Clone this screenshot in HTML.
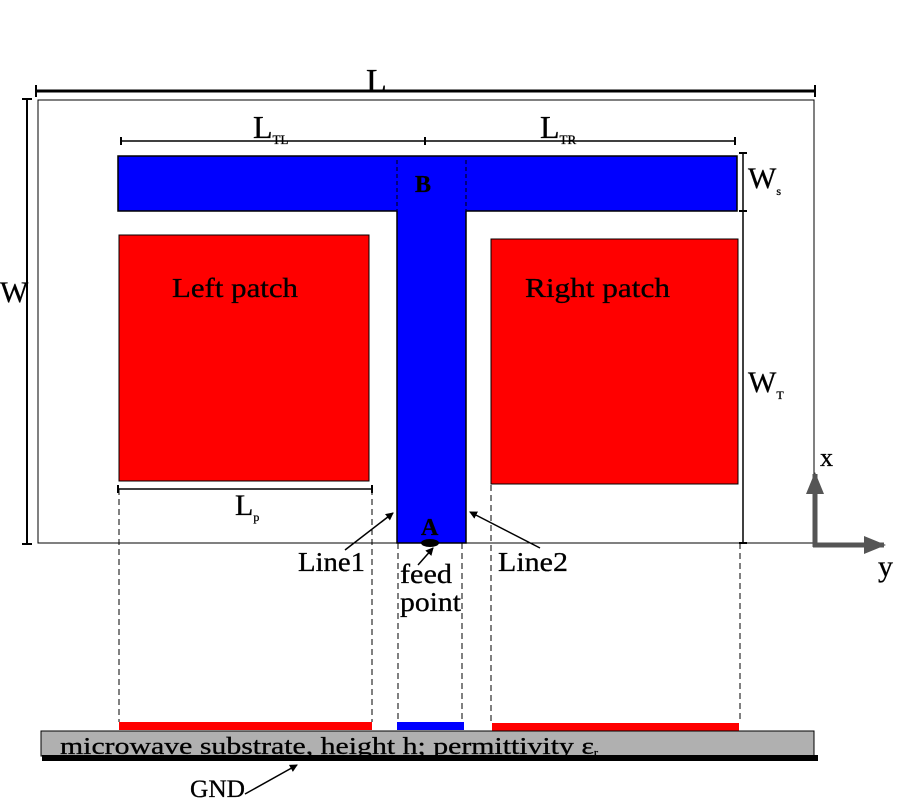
<!DOCTYPE html>
<html><head><style>body{margin:0;background:#fff}svg{display:block}text{font-family:"Liberation Serif",serif;fill:#000;stroke:#000;stroke-width:0.3}</style></head>
<body>
<svg width="900" height="800" viewBox="0 0 900 800" xmlns="http://www.w3.org/2000/svg">
<defs>
<marker id="a" markerWidth="8" markerHeight="8" refX="7" refY="4" orient="auto" markerUnits="userSpaceOnUse"><path d="M0,0 L8,4 L0,8 z" fill="#000"/></marker>
<marker id="g" markerWidth="22" markerHeight="18" refX="20" refY="9" orient="auto" markerUnits="userSpaceOnUse"><path d="M0,0 L22,9 L0,18 z" fill="#555"/></marker>
</defs>
<rect x="38" y="100" width="776" height="443" fill="none" stroke="#000" stroke-width="1"/>
<line x1="36" y1="91" x2="815" y2="91" stroke="#000" stroke-width="3"/>
<path d="M36,85 v12 M815,85 v12" stroke="#000" stroke-width="2"/>
<text x="366" y="92" font-size="34">L</text>
<line x1="27" y1="98" x2="27" y2="545" stroke="#000" stroke-width="2"/>
<path d="M22,99 h10 M22,544 h10" stroke="#000" stroke-width="2"/>
<text x="0" y="302" font-size="30">W</text>
<line x1="121" y1="141" x2="735" y2="141" stroke="#000" stroke-width="1.5"/>
<path d="M121,137 v8 M425,137 v8 M735,137 v8" stroke="#000" stroke-width="2"/>
<text x="253" y="138" font-size="32">L<tspan font-size="13" dy="6">TL</tspan></text>
<text x="540" y="138" font-size="32">L<tspan font-size="13" dy="6">TR</tspan></text>
<path d="M118,156 H737 V211 H466 V543 H397 V211 H118 Z" fill="#0000ff" stroke="#000" stroke-width="1.5"/>
<path d="M397,160 V210 M466,160 V210" stroke="#000" stroke-width="1" stroke-dasharray="4,3"/>
<text x="415" y="192" font-size="24" font-weight="bold">B</text>
<rect x="119" y="235" width="250" height="246" fill="#ff0000" stroke="#000" stroke-width="1"/>
<rect x="491" y="239" width="247" height="245" fill="#ff0000" stroke="#000" stroke-width="1"/>
<text x="172" y="297" font-size="27" textLength="126" lengthAdjust="spacingAndGlyphs">Left patch</text>
<text x="525" y="297" font-size="27" textLength="145" lengthAdjust="spacingAndGlyphs">Right patch</text>
<line x1="743" y1="153" x2="743" y2="543" stroke="#000" stroke-width="1.5"/>
<path d="M739,153 h8 M739,211 h8 M739,543 h8" stroke="#000" stroke-width="2"/>
<text x="748" y="188" font-size="30">W<tspan font-size="12" dy="7">s</tspan></text>
<text x="748" y="392" font-size="30">W<tspan font-size="12" dy="7">T</tspan></text>
<line x1="118" y1="489" x2="372" y2="489" stroke="#000" stroke-width="1.5"/>
<path d="M118,485 v8 M372,485 v8" stroke="#000" stroke-width="2"/>
<text x="235" y="515" font-size="30">L<tspan font-size="12" dy="6">p</tspan></text>
<g stroke="#000" stroke-width="1" stroke-dasharray="6,4">
<line x1="119" y1="489" x2="119" y2="722"/><line x1="372" y1="489" x2="372" y2="722"/>
<line x1="398" y1="543" x2="398" y2="722"/><line x1="462" y1="543" x2="462" y2="722"/>
<line x1="491" y1="485" x2="491" y2="722"/><line x1="740" y1="543" x2="740" y2="722"/>
</g>
<text x="421" y="535" font-size="24" font-weight="bold">A</text>
<ellipse cx="430" cy="543" rx="9" ry="4" fill="#000"/>
<text x="298" y="571" font-size="27" textLength="67" lengthAdjust="spacingAndGlyphs">Line1</text>
<text x="498" y="571" font-size="27" textLength="70" lengthAdjust="spacingAndGlyphs">Line2</text>
<line x1="345" y1="550" x2="393" y2="513" stroke="#000" stroke-width="1.5" marker-end="url(#a)"/>
<line x1="540" y1="548" x2="470" y2="512" stroke="#000" stroke-width="1.5" marker-end="url(#a)"/>
<text x="400" y="583" font-size="27" textLength="52" lengthAdjust="spacingAndGlyphs">feed</text>
<text x="400" y="611" font-size="27" textLength="61" lengthAdjust="spacingAndGlyphs">point</text>
<line x1="418" y1="565" x2="433" y2="548" stroke="#000" stroke-width="1.5" marker-end="url(#a)"/>
<line x1="815" y1="547" x2="815" y2="474" stroke="#555" stroke-width="5" marker-end="url(#g)"/>
<line x1="813" y1="545" x2="884" y2="545" stroke="#555" stroke-width="5" marker-end="url(#g)"/>
<text x="820" y="466" font-size="26">x</text>
<text x="878" y="576" font-size="30">y</text>
<rect x="119" y="722" width="253" height="8" fill="#ff0000"/>
<rect x="397" y="722" width="67" height="8" fill="#0000ff"/>
<rect x="492" y="723" width="247" height="8" fill="#ff0000"/>
<rect x="41" y="731" width="773" height="25" fill="#b0b0b0" stroke="#000" stroke-width="1"/>
<rect x="42" y="755" width="776" height="6" fill="#000"/>
<text x="60" y="754" font-size="24" textLength="538" lengthAdjust="spacingAndGlyphs">microwave substrate, height h; permittivity ε<tspan font-size="10" dy="2">r</tspan></text>
<text x="190" y="797" font-size="25" textLength="55" lengthAdjust="spacingAndGlyphs">GND</text>
<line x1="245" y1="794" x2="297" y2="765" stroke="#000" stroke-width="1.5" marker-end="url(#a)"/>
</svg>
</body></html>
